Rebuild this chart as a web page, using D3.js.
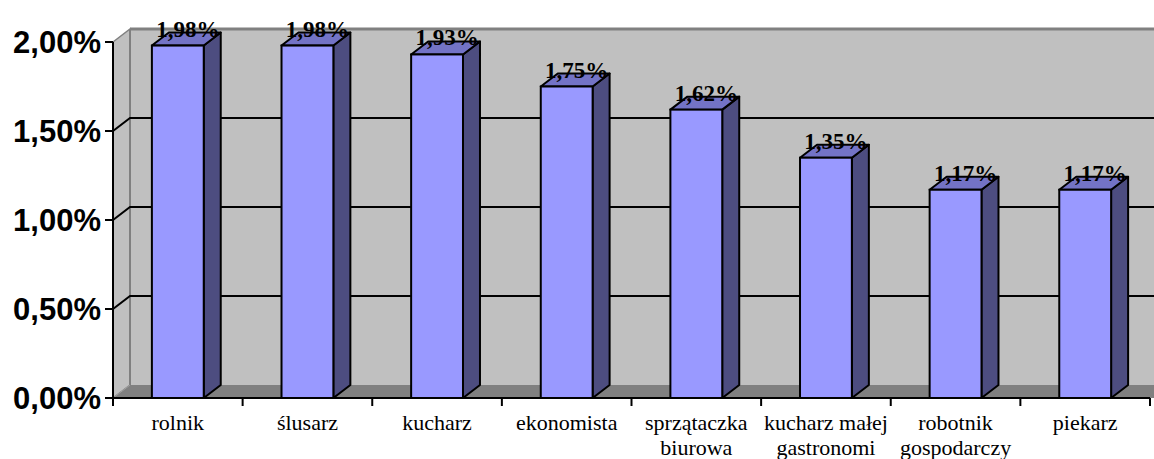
<!DOCTYPE html>
<html>
<head>
<meta charset="utf-8">
<script src="https://cdn.jsdelivr.net/npm/d3@7"></script>
<style>
  body { margin: 0; background: #fff; }
</style>
</head>
<body>
<script>
const width = 1154, height = 459;

const categories = ["rolnik", "ślusarz", "kucharz", "ekonomista", "sprzątaczka biurowa", "kucharz małej gastronomi", "robotnik gospodarczy", "piekarz"];
const labelLines = [["rolnik"], ["ślusarz"], ["kucharz"], ["ekonomista"], ["sprzątaczka", "biurowa"], ["kucharz małej", "gastronomi"], ["robotnik", "gospodarczy"], ["piekarz"]];
const values = [1.98, 1.98, 1.93, 1.75, 1.62, 1.35, 1.17, 1.17];
const yTicks = [0, 0.5, 1.0, 1.5, 2.0];

const plotL = 113, plotR = 1150, plotT = 42, plotB = 398;
const dx = 17, dy = 13; // 3d depth

const fmt = v => d3.format(".2f")(v).replace(".", ",") + "%";

const x = d3.scaleBand().domain(categories).range([plotL, plotR]);
const y = d3.scaleLinear().domain([0, 2]).range([plotB, plotT]);

const svg = d3.select("body").append("svg")
  .attr("width", width)
  .attr("height", height);

// back wall
svg.append("rect")
  .attr("x", plotL + dx).attr("y", plotT - dy)
  .attr("width", width - plotL - dx + 20).attr("height", plotB - plotT)
  .attr("fill", "#c0c0c0");

// side wall
svg.append("polygon")
  .attr("points", [[plotL, plotT], [plotL + dx, plotT - dy], [plotL + dx, plotB - dy], [plotL, plotB]].join(" "))
  .attr("fill", "#c0c0c0")
  .attr("stroke", "#808080").attr("stroke-width", 1.5);

// floor
svg.append("polygon")
  .attr("points", [[plotL, plotB], [plotL + dx, plotB - dy], [width + 20, plotB - dy], [width + 20, plotB]].join(" "))
  .attr("fill", "#808080");

// wall edges
svg.append("line")
  .attr("x1", plotL + dx).attr("x2", width)
  .attr("y1", plotT - dy).attr("y2", plotT - dy)
  .attr("stroke", "#808080").attr("stroke-width", 3);
svg.append("line")
  .attr("x1", plotL + dx).attr("x2", plotL + dx)
  .attr("y1", plotT - dy).attr("y2", plotB - dy)
  .attr("stroke", "#808080").attr("stroke-width", 2);
svg.append("line")
  .attr("x1", plotL).attr("x2", plotL + dx)
  .attr("y1", plotB).attr("y2", plotB - dy)
  .attr("stroke", "#a0a0a0").attr("stroke-width", 1);

// gridlines
yTicks.filter(t => t > 0 && t < 2).forEach(t => {
  svg.append("polyline")
    .attr("points", [[plotL, y(t)], [plotL + dx, y(t) - dy], [width, y(t) - dy]].join(" "))
    .attr("fill", "none")
    .attr("stroke", "#000").attr("stroke-width", 2);
});

// bars
const bw = x.bandwidth() * 0.4;
const bars = svg.append("g").selectAll("g")
  .data(values)
  .enter().append("g");

bars.each(function(v, i) {
  const g = d3.select(this);
  const x0 = x(categories[i]) + (x.bandwidth() - bw) / 2;
  const x1 = x0 + bw;
  const yt = y(v), yb = y(0);
  g.append("polygon")
    .attr("points", [[x1, yt], [x1 + dx, yt - dy], [x1 + dx, yb - dy], [x1, yb]].join(" "))
    .attr("fill", "#4d4d80").attr("stroke", "#000").attr("stroke-width", 2).attr("stroke-linejoin", "round");
  g.append("polygon")
    .attr("points", [[x0, yt], [x0 + dx, yt - dy], [x1 + dx, yt - dy], [x1, yt]].join(" "))
    .attr("fill", "#7373c6").attr("stroke", "#000").attr("stroke-width", 2).attr("stroke-linejoin", "round");
  g.append("rect")
    .attr("x", x0).attr("y", yt)
    .attr("width", bw).attr("height", yb - yt)
    .attr("fill", "#9999ff").attr("stroke", "#000").attr("stroke-width", 2);
});

// value labels
svg.append("g").selectAll("text")
  .data(values)
  .enter().append("text")
  .attr("x", (v, i) => x(categories[i]) + x.bandwidth() / 2 + 10)
  .attr("y", v => y(v) - dy + 4)
  .attr("text-anchor", "middle")
  .style("font-family", "'Liberation Serif', 'Times New Roman', serif")
  .style("font-weight", "bold")
  .style("font-size", "23px")
  .text(fmt);

// y axis
svg.append("line")
  .attr("x1", plotL).attr("x2", plotL)
  .attr("y1", plotT).attr("y2", plotB)
  .attr("stroke", "#000").attr("stroke-width", 2);
const yAxis = svg.append("g");
yTicks.forEach(t => {
  yAxis.append("line")
    .attr("x1", plotL - 8).attr("x2", plotL)
    .attr("y1", y(t)).attr("y2", y(t))
    .attr("stroke", "#000").attr("stroke-width", 2);
  yAxis.append("text")
    .attr("x", plotL - 12)
    .attr("y", y(t))
    .attr("dy", "0.36em")
    .attr("text-anchor", "end")
    .style("font-family", "'Liberation Sans', Arial, sans-serif")
    .style("font-weight", "bold")
    .style("font-size", "31px")
    .text(fmt(t));
});

// x axis
svg.append("line")
  .attr("x1", plotL).attr("x2", plotR)
  .attr("y1", plotB).attr("y2", plotB)
  .attr("stroke", "#000").attr("stroke-width", 2);
const xAxis = svg.append("g");
categories.concat([null]).forEach(c => {
  const xp = c ? x(c) : plotR;
  xAxis.append("line")
    .attr("x1", xp).attr("x2", xp)
    .attr("y1", plotB).attr("y2", plotB + 8)
    .attr("stroke", "#000").attr("stroke-width", 2);
});
categories.forEach((c, i) => {
  const t = xAxis.append("text")
    .attr("text-anchor", "middle")
    .style("font-family", "'Liberation Serif', 'Times New Roman', serif")
    .style("font-size", "22px");
  labelLines[i].forEach((line, j) => {
    t.append("tspan")
      .attr("x", x(c) + x.bandwidth() / 2)
      .attr("y", 430 + j * 25)
      .text(line);
  });
});
</script>
</body>
</html>
